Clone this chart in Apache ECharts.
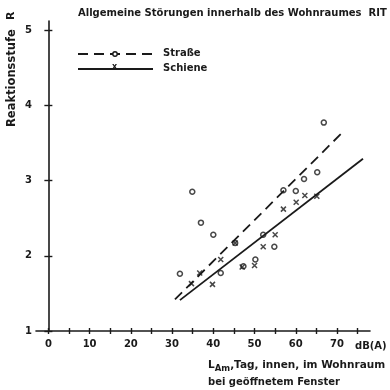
<!DOCTYPE html>
<html>
<head>
<meta charset="utf-8">
<script src="https://cdn.jsdelivr.net/npm/echarts@6/dist/echarts.min.js"></script>
<style>
  html, body { margin: 0; padding: 0; background: #fff; }
  #chart { width: 390px; height: 390px; }
</style>
</head>
<body>
<div id="chart"></div>
<script>
// Straße (o) – Messpunkte [dB(A), Reaktionsstufe]
var strasse = [
  [31.9, 1.76], [34.9, 2.85], [37.0, 2.44], [40.0, 2.28], [41.8, 1.77],
  [45.3, 2.17], [47.3, 1.86], [50.2, 1.95], [52.1, 2.28], [54.8, 2.12],
  [57.0, 2.87], [60.0, 2.86], [62.0, 3.02], [65.2, 3.11], [66.8, 3.77]
]
// Schiene (x)
var schiene = [
  [34.7, 1.63], [36.7, 1.77], [39.8, 1.62], [41.8, 1.95], [45.3, 2.17],
  [47.0, 1.85], [50.0, 1.87], [52.1, 2.12], [55.0, 2.28], [57.0, 2.62],
  [60.1, 2.71], [62.2, 2.80], [65.1, 2.79]
]
// Regressionsgeraden
var strasseFit = [[30.7, 1.42], [71.7, 3.66]]
var schieneFit = [[31.9, 1.41], [76.3, 3.29]]

var xTicks = [0, 5, 10, 15, 20, 25, 30, 35, 40, 45, 50, 55, 60, 65, 70, 75]
var xLabels = [0, 10, 20, 30, 40, 50, 60, 70]
var yTicks = [1, 2, 3, 4, 5]

var ink = '#1a1a1a'
var font = 'DejaVu Sans'
var crossPath = 'path://M0,0L10,10M10,0L0,10'

var chart = echarts.init(document.getElementById('chart'))

var option = {
  backgroundColor: '#fff',
  animation: false,
  grid: { left: 36, right: 20, top: 21, bottom: 59 },
  xAxis: [{
    type: 'value', min: -3, max: 78,
    axisLine: { lineStyle: { color: ink, width: 1.6 } },
    axisTick: { show: true, length: 3, customValues: xTicks, lineStyle: { color: ink, width: 1.4 } },
    axisLabel: { customValues: xLabels, color: ink, fontFamily: font, fontWeight: 'bold', fontSize: 10, margin: 8 },
    splitLine: { show: false }
  }, {
    type: 'value', min: -3, max: 78, position: 'bottom',
    axisLine: { show: false },
    axisTick: { show: true, inside: true, length: 3, customValues: xTicks, lineStyle: { color: ink, width: 1.4 } },
    axisLabel: { show: false },
    splitLine: { show: false }
  }],
  yAxis: [{
    type: 'value', min: 1, max: 5.12,
    axisLine: { show: true, lineStyle: { color: ink, width: 1.6 } },
    axisTick: { show: true, length: 4, customValues: yTicks, lineStyle: { color: ink, width: 1.4 } },
    axisLabel: { customValues: yTicks, color: ink, fontFamily: font, fontWeight: 'bold', fontSize: 10, margin: 4 },
    splitLine: { show: false }
  }, {
    type: 'value', min: 1, max: 5.12, position: 'left',
    axisLine: { show: false },
    axisTick: { show: true, inside: true, length: 4, customValues: yTicks, lineStyle: { color: ink, width: 1.4 } },
    axisLabel: { show: false },
    splitLine: { show: false }
  }],
  series: [{
    name: 'Straße Gerade', type: 'line', data: strasseFit, symbol: 'none',
    lineStyle: { color: ink, width: 1.8, type: [10, 6] }
  }, {
    name: 'Schiene Gerade', type: 'line', data: schieneFit, symbol: 'none',
    lineStyle: { color: ink, width: 1.8 }
  }, {
    name: 'Straße', type: 'scatter', data: strasse, symbol: 'circle', symbolSize: 5,
    itemStyle: { color: '#fff', borderColor: ink, borderWidth: 1.5 }
  }, {
    name: 'Schiene', type: 'scatter', data: schiene, symbol: crossPath, symbolSize: 5,
    itemStyle: { color: 'none', borderColor: ink, borderWidth: 1.5 }
  }],
  graphic: [
    // Titel
    { type: 'text', left: 78, top: 8, style: { text: 'Allgemeine Störungen innerhalb des Wohnraumes  RIT', fill: ink, font: 'bold 10px ' + font } },
    // y-Achsentitel
    { type: 'text', x: 6, y: 127, rotation: Math.PI / 2, style: { text: 'Reaktionsstufe', fill: ink, font: 'bold 11.5px ' + font } },
    { type: 'text', x: 6, y: 20, rotation: Math.PI / 2, style: { text: 'R', fill: ink, font: 'bold 11px ' + font } },
    // Legende
    { type: 'line', shape: { x1: 78, y1: 54, x2: 153, y2: 54 }, style: { stroke: ink, lineWidth: 1.8, lineDash: [10, 6] } },
    { type: 'circle', shape: { cx: 115, cy: 54, r: 2.2 }, style: { fill: '#fff', stroke: ink, lineWidth: 1.4 } },
    { type: 'text', left: 163, top: 48, style: { text: 'Straße', fill: ink, font: 'bold 10px ' + font } },
    { type: 'line', shape: { x1: 78, y1: 69, x2: 153, y2: 69 }, style: { stroke: ink, lineWidth: 1.8 } },
    { type: 'text', left: 112, top: 63, style: { text: 'x', fill: ink, font: 'bold 8px ' + font } },
    { type: 'text', left: 163, top: 63, style: { text: 'Schiene', fill: ink, font: 'bold 10px ' + font } },
    // x-Achsentitel
    { type: 'text', left: 355, top: 341, style: { text: 'dB(A)', fill: ink, font: 'bold 10px ' + font } },
    { type: 'text', left: 208, top: 360, style: {
      rich: {
        b: { fill: ink, font: 'bold 10.5px ' + font },
        s: { fill: ink, font: 'bold 8.5px ' + font, padding: [6, 0, 0, 0] }
      },
      text: '{b|L}{s|Am}{b|,Tag, innen, im Wohnraum}'
    } },
    { type: 'text', left: 208, top: 377, style: { text: 'bei geöffnetem Fenster', fill: ink, font: 'bold 10px ' + font } }
  ]
}

chart.setOption(option)
</script>
</body>
</html>
